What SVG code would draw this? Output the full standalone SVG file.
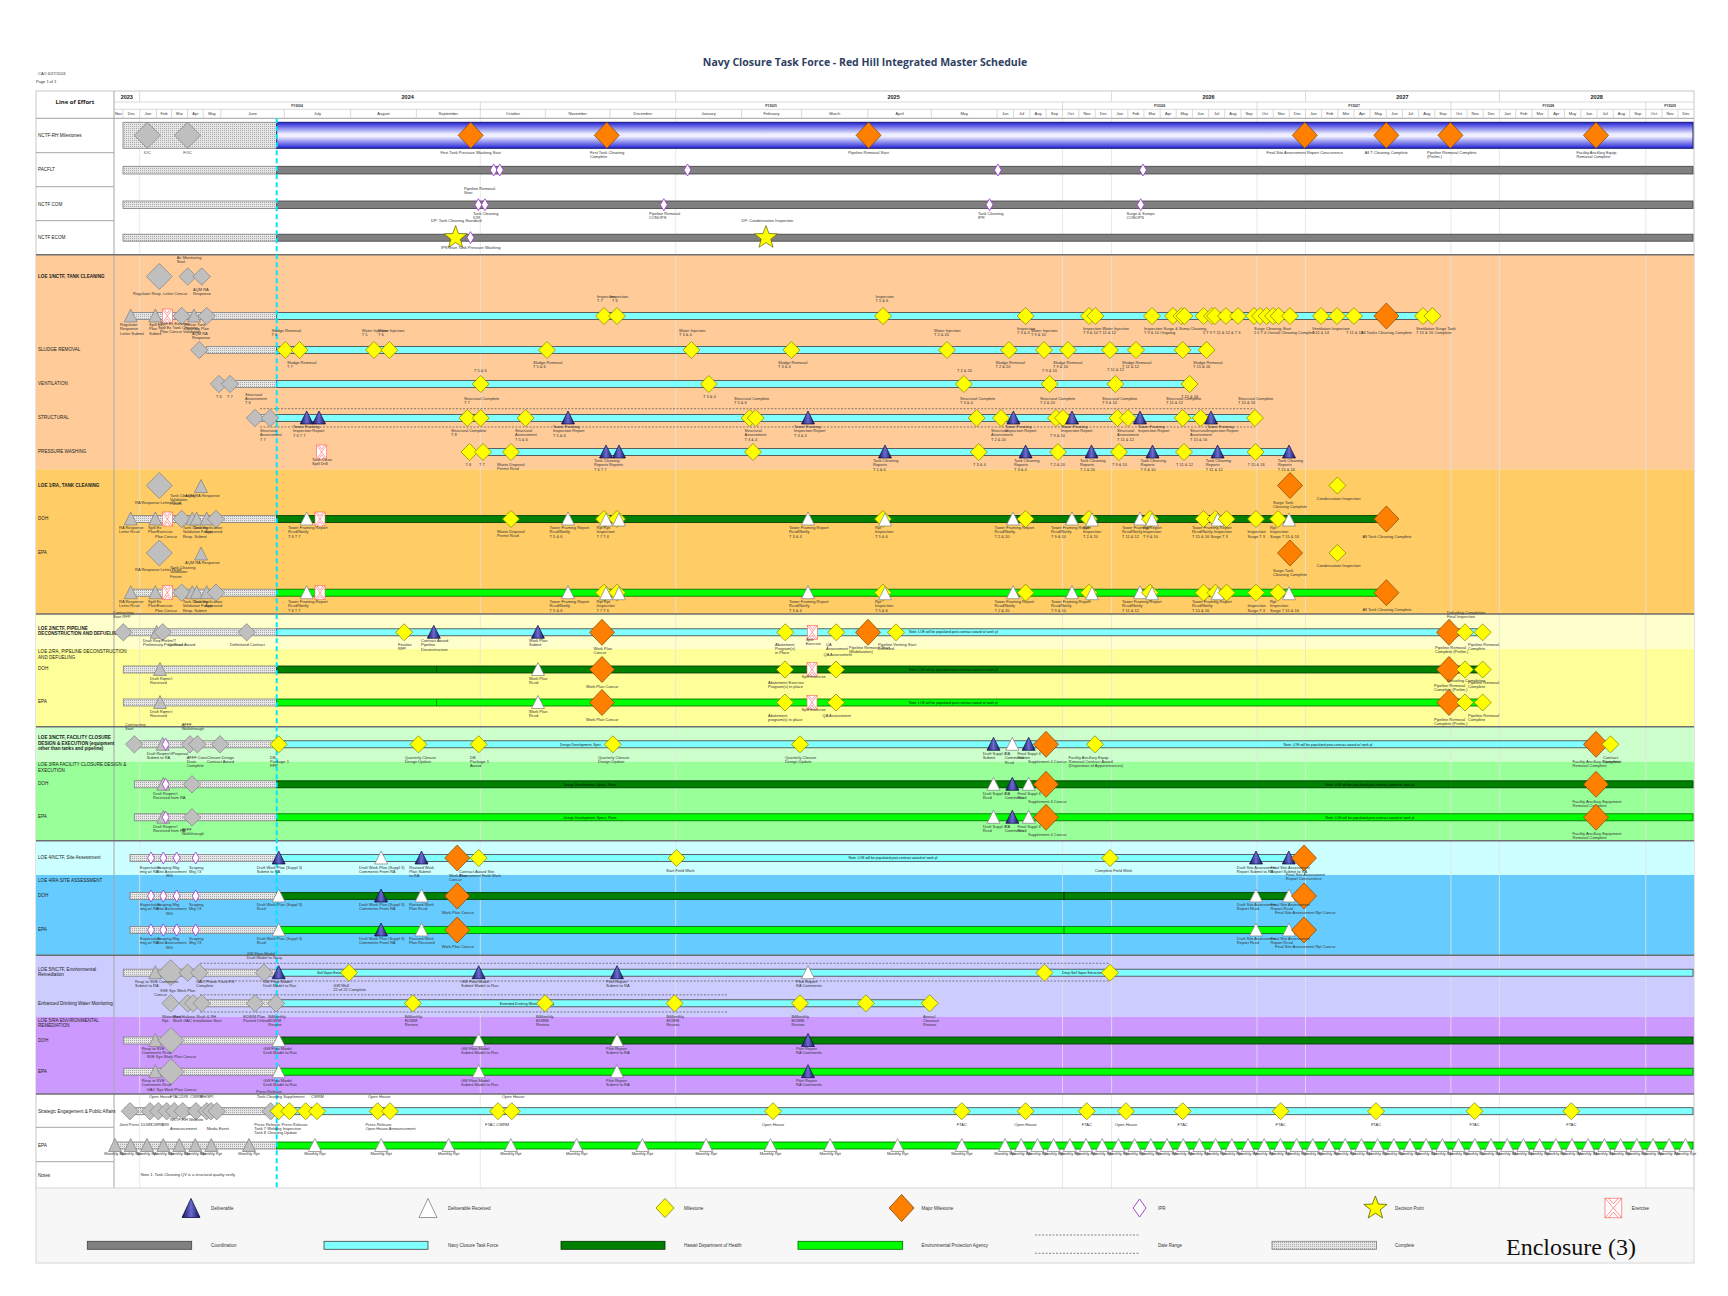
<svg xmlns="http://www.w3.org/2000/svg" width="1728" height="1296" viewBox="0 0 1728 1296">
<defs>
<style>
.t{font-family:"Liberation Sans",Arial,sans-serif;font-size:4px;fill:#333}
.c{text-anchor:middle}
.lb{font-family:"Liberation Sans",Arial,sans-serif;font-size:4.6px;fill:#222}
.b{font-weight:bold}
.n{font-family:"Liberation Sans",Arial,sans-serif;font-size:3.4px;fill:#111}
.hb{fill:url(#hatch);stroke:#7F7F7F;stroke-width:0.8}
.gb{fill:#808080;stroke:#3F3F3F;stroke-width:0.8}
.cb{fill:#80FFFF;stroke:#404040;stroke-width:0.8}
.db{fill:#008000;stroke:#003300;stroke-width:0.8}
.eb{fill:#00FF00;stroke:#006600;stroke-width:0.8}
.grid{stroke:#E2E2E2;stroke-width:0.8}
.hd{stroke:#D0D0D0;stroke-width:0.8}
.dash{stroke:#555;stroke-width:0.7;stroke-dasharray:2,1.5;fill:none}
.sec{stroke:#6E6E6E;stroke-width:1.6}
.row{stroke:#A6A6A6;stroke-width:1}
.mo{font-family:"Liberation Sans",Arial,sans-serif;font-size:4px;fill:#333;text-anchor:middle}
.yr{font-family:"Liberation Sans",Arial,sans-serif;font-size:5.5px;font-weight:bold;fill:#222;text-anchor:middle}
.fy{font-family:"Liberation Sans",Arial,sans-serif;font-size:3.3px;font-weight:bold;fill:#333;text-anchor:middle}
.lg{font-family:"Liberation Sans",Arial,sans-serif;font-size:4.5px;fill:#333}
</style>
<pattern id="hatch" width="2" height="2" patternUnits="userSpaceOnUse"><rect width="2" height="2" fill="#E6E6E6"/><rect width="1" height="1" fill="#A9A9A9"/></pattern>
<linearGradient id="blue" x1="0" y1="0" x2="0" y2="1"><stop offset="0" stop-color="#2222D8"/><stop offset="0.45" stop-color="#EEEEFF"/><stop offset="0.55" stop-color="#EEEEFF"/><stop offset="1" stop-color="#2222D8"/></linearGradient>
<linearGradient id="navy" x1="0" y1="0" x2="1" y2="0"><stop offset="0" stop-color="#14145A"/><stop offset="0.5" stop-color="#6A6AD2"/><stop offset="1" stop-color="#14145A"/></linearGradient>
<g id="ym"><polygon points="0,-8.5 8.5,0 0,8.5 -8.5,0" fill="#FFFF00" stroke="#7F7F00" stroke-width="0.7"/></g>
<g id="om"><polygon points="0,-13 12.5,0 0,13 -12.5,0" fill="#FF8000" stroke="#804000" stroke-width="0.7"/></g>
<g id="gd"><polygon points="0,-8.7 8.7,0 0,8.7 -8.7,0" fill="#BFBFBF" stroke="#7F7F7F" stroke-width="0.7"/></g>
<g id="gdl"><polygon points="0,-13 13,0 0,13 -13,0" fill="#BFBFBF" stroke="#7F7F7F" stroke-width="0.7"/></g>
<g id="dl"><polygon points="0,-7 6.5,6 -6.5,6" fill="url(#navy)" stroke="#101040" stroke-width="0.7"/></g>
<g id="dr"><polygon points="0,-7 6.5,6 -6.5,6" fill="#FFFFFF" stroke="#808080" stroke-width="0.7"/></g>
<g id="gt"><polygon points="0,-7 6.5,6 -6.5,6" fill="#BFBFBF" stroke="#7F7F7F" stroke-width="0.7"/></g>
<g id="ipr"><polygon points="0,-6 3.5,0 0,6 -3.5,0" fill="#FFFFFF" stroke="#9933CC" stroke-width="0.8"/></g>
<g id="ex"><rect x="-5" y="-7" width="10" height="14" fill="#FFFFFF" stroke="#FF6060" stroke-width="0.6"/><path d="M-5,-7 L5,7 M5,-7 L-5,7 M-3,-7 L0,-2.8 L3,-7 M-3,7 L0,2.8 L3,7" fill="none" stroke="#FF6060" stroke-width="0.6"/></g>
<g id="st"><polygon points="0,-12 2.94,-4.05 11.41,-3.71 4.76,1.55 7.05,9.71 0,5 -7.05,9.71 -4.76,1.55 -11.41,-3.71 -2.94,-4.05" fill="#FFFF00" stroke="#606000" stroke-width="0.7"/></g>
</defs>
<rect width="1728" height="1296" fill="#FFFFFF"/>
<text x="865" y="66" font-family="'Open Sans','Liberation Sans',sans-serif" font-size="10.5" font-weight="bold" fill="#2F4062" text-anchor="middle">Navy Closure Task Force - Red Hill Integrated Master Schedule</text>
<text x="38" y="75" class="t">CAO 6/27/2024</text>
<text x="36" y="83" class="t">Page 1 of 1</text>

<g id="backgrounds">
<rect x="36" y="91" width="1658" height="1098" fill="#FFFFFF" stroke="#C8C8C8" stroke-width="1"/>
<rect x="36" y="254.7" width="1658" height="214.6" fill="#FFCC99"/>
<rect x="36" y="469.3" width="1658" height="144.7" fill="#FFCC66"/>
<rect x="36" y="614" width="1658" height="35" fill="#FFFFCC"/>
<rect x="36" y="649" width="1658" height="77.7" fill="#FFFF99"/>
<rect x="36" y="726.7" width="1658" height="35" fill="#CCFFCC"/>
<rect x="36" y="761.7" width="1658" height="79" fill="#99FF99"/>
<rect x="36" y="840.7" width="1658" height="34.3" fill="#CCFFFF"/>
<rect x="36" y="875" width="1658" height="80.3" fill="#66CCFF"/>
<rect x="36" y="955.3" width="1658" height="61.4" fill="#CCCCFF"/>
<rect x="36" y="1016.7" width="1658" height="77.3" fill="#CC99FF"/>
</g>

<g id="gridlines">
<line class="grid" x1="139.7" y1="118.3" x2="139.7" y2="1189"/>
<line class="grid" x1="480.3" y1="118.3" x2="480.3" y2="1189"/>
<line class="grid" x1="675.7" y1="118.3" x2="675.7" y2="1189"/>
<line class="grid" x1="1062.5" y1="118.3" x2="1062.5" y2="1189"/>
<line class="grid" x1="1111.6" y1="118.3" x2="1111.6" y2="1189"/>
<line class="grid" x1="1257" y1="118.3" x2="1257" y2="1189"/>
<line class="grid" x1="1305.5" y1="118.3" x2="1305.5" y2="1189"/>
<line class="grid" x1="1450.9" y1="118.3" x2="1450.9" y2="1189"/>
<line class="grid" x1="1499.4" y1="118.3" x2="1499.4" y2="1189"/>
<line class="grid" x1="1645.8" y1="118.3" x2="1645.8" y2="1189"/>
</g>

<g id="header">
<line class="hd" x1="114" y1="102" x2="1694" y2="102"/>
<line class="hd" x1="114" y1="109.3" x2="1694" y2="109.3"/>
<line x1="36" y1="118.3" x2="1694" y2="118.3" stroke="#A0A0A0" stroke-width="1"/>
<text x="75" y="103.5" font-family="'Open Sans','Liberation Sans',sans-serif" font-size="6" font-weight="bold" fill="#222" text-anchor="middle">Line of Effort</text>
<line class="hd" x1="139.7" y1="91" x2="139.7" y2="102"/>
<line class="hd" x1="675.7" y1="91" x2="675.7" y2="102"/>
<line class="hd" x1="1111.6" y1="91" x2="1111.6" y2="102"/>
<line class="hd" x1="1305.5" y1="91" x2="1305.5" y2="102"/>
<line class="hd" x1="1499.4" y1="91" x2="1499.4" y2="102"/>
<text class="yr" x="126.8" y="98.5">2023</text>
<text class="yr" x="407.7" y="98.5">2024</text>
<text class="yr" x="893.6" y="98.5">2025</text>
<text class="yr" x="1208.5" y="98.5">2026</text>
<text class="yr" x="1402.4" y="98.5">2027</text>
<text class="yr" x="1596.7" y="98.5">2028</text>
<line class="hd" x1="480.3" y1="102" x2="480.3" y2="109.3"/>
<line class="hd" x1="1062.5" y1="102" x2="1062.5" y2="109.3"/>
<line class="hd" x1="1257" y1="102" x2="1257" y2="109.3"/>
<line class="hd" x1="1450.9" y1="102" x2="1450.9" y2="109.3"/>
<line class="hd" x1="1645.8" y1="102" x2="1645.8" y2="109.3"/>
<text class="fy" x="297" y="107">FY2024</text>
<text class="fy" x="771" y="107">FY2025</text>
<text class="fy" x="1159.7" y="107">FY2026</text>
<text class="fy" x="1354" y="107">FY2027</text>
<text class="fy" x="1548.4" y="107">FY2028</text>
<text class="fy" x="1670" y="107">FY2029</text>
<path class="hd" d="M123,109.3V118.3 M139.7,109.3V118.3 M156.5,109.3V118.3 M171.5,109.3V118.3 M187.5,109.3V118.3 M203.2,109.3V118.3 M220.8,109.3V118.3 M284.3,109.3V118.3 M350.6,109.3V118.3 M416.4,109.3V118.3 M480.3,109.3V118.3 M545.4,109.3V118.3 M609.9,109.3V118.3 M675.7,109.3V118.3 M741.5,109.3V118.3 M801.6,109.3V118.3 M867.8,109.3V118.3 M931.3,109.3V118.3 M997.1,109.3V118.3 M1013.5,109.3V118.3 M1029.8,109.3V118.3 M1046.2,109.3V118.3 M1062.5,109.3V118.3 M1078.9,109.3V118.3 M1095.2,109.3V118.3 M1111.6,109.3V118.3 M1127.8,109.3V118.3 M1143.9,109.3V118.3 M1160.1,109.3V118.3 M1176.2,109.3V118.3 M1192.4,109.3V118.3 M1208.6,109.3V118.3 M1224.7,109.3V118.3 M1240.9,109.3V118.3 M1257,109.3V118.3 M1273.2,109.3V118.3 M1289.3,109.3V118.3 M1305.5,109.3V118.3 M1321.7,109.3V118.3 M1337.8,109.3V118.3 M1354,109.3V118.3 M1370.1,109.3V118.3 M1386.3,109.3V118.3 M1402.5,109.3V118.3 M1418.6,109.3V118.3 M1434.8,109.3V118.3 M1450.9,109.3V118.3 M1467.1,109.3V118.3 M1483.2,109.3V118.3 M1499.4,109.3V118.3 M1515.7,109.3V118.3 M1531.9,109.3V118.3 M1548.2,109.3V118.3 M1564.5,109.3V118.3 M1580.8,109.3V118.3 M1597,109.3V118.3 M1613.3,109.3V118.3 M1629.6,109.3V118.3 M1645.8,109.3V118.3 M1662,109.3V118.3 M1678,109.3V118.3"/>
<text class="mo" x="118.5" y="115.3" font-size="3.4">Nov</text>
<text class="mo" x="131.4" y="115.3">Dec</text>
<text class="mo" x="148.1" y="115.3">Jan</text>
<text class="mo" x="164" y="115.3">Feb</text>
<text class="mo" x="179.5" y="115.3">Mar</text>
<text class="mo" x="195.4" y="115.3">Apr</text>
<text class="mo" x="212" y="115.3">May</text>
<text class="mo" x="252.6" y="115.3">June</text>
<text class="mo" x="317.5" y="115.3">July</text>
<text class="mo" x="383.5" y="115.3">August</text>
<text class="mo" x="448.4" y="115.3">September</text>
<text class="mo" x="512.9" y="115.3">October</text>
<text class="mo" x="577.7" y="115.3">November</text>
<text class="mo" x="642.8" y="115.3">December</text>
<text class="mo" x="708.6" y="115.3">January</text>
<text class="mo" x="771.6" y="115.3">February</text>
<text class="mo" x="834.7" y="115.3">March</text>
<text class="mo" x="899.6" y="115.3">April</text>
<text class="mo" x="964.2" y="115.3">May</text>
<text class="mo" x="1005.3" y="115.3">Jun</text>
<text class="mo" x="1021.7" y="115.3">Jul</text>
<text class="mo" x="1038" y="115.3">Aug</text>
<text class="mo" x="1054.4" y="115.3">Sep</text>
<text class="mo" x="1070.7" y="115.3">Oct</text>
<text class="mo" x="1087" y="115.3">Nov</text>
<text class="mo" x="1103.4" y="115.3">Dec</text>
<text class="mo" x="1119.7" y="115.3">Jan</text>
<text class="mo" x="1135.9" y="115.3">Feb</text>
<text class="mo" x="1152" y="115.3">Mar</text>
<text class="mo" x="1168.2" y="115.3">Apr</text>
<text class="mo" x="1184.3" y="115.3">May</text>
<text class="mo" x="1200.5" y="115.3">Jun</text>
<text class="mo" x="1216.6" y="115.3">Jul</text>
<text class="mo" x="1232.8" y="115.3">Aug</text>
<text class="mo" x="1249" y="115.3">Sep</text>
<text class="mo" x="1265.1" y="115.3">Oct</text>
<text class="mo" x="1281.3" y="115.3">Nov</text>
<text class="mo" x="1297.4" y="115.3">Dec</text>
<text class="mo" x="1313.6" y="115.3">Jan</text>
<text class="mo" x="1329.7" y="115.3">Feb</text>
<text class="mo" x="1345.9" y="115.3">Mar</text>
<text class="mo" x="1362" y="115.3">Apr</text>
<text class="mo" x="1378.2" y="115.3">May</text>
<text class="mo" x="1394.4" y="115.3">Jun</text>
<text class="mo" x="1410.5" y="115.3">Jul</text>
<text class="mo" x="1426.7" y="115.3">Aug</text>
<text class="mo" x="1442.8" y="115.3">Sep</text>
<text class="mo" x="1459" y="115.3">Oct</text>
<text class="mo" x="1475.1" y="115.3">Nov</text>
<text class="mo" x="1491.3" y="115.3">Dec</text>
<text class="mo" x="1507.5" y="115.3">Jan</text>
<text class="mo" x="1523.8" y="115.3">Feb</text>
<text class="mo" x="1540" y="115.3">Mar</text>
<text class="mo" x="1556.3" y="115.3">Apr</text>
<text class="mo" x="1572.6" y="115.3">May</text>
<text class="mo" x="1588.9" y="115.3">Jun</text>
<text class="mo" x="1605.1" y="115.3">Jul</text>
<text class="mo" x="1621.4" y="115.3">Aug</text>
<text class="mo" x="1637.7" y="115.3">Sep</text>
<text class="mo" x="1653.9" y="115.3">Oct</text>
<text class="mo" x="1670" y="115.3">Nov</text>
<text class="mo" x="1686" y="115.3">Dec</text>
</g>

<g id="row-lines">
<line x1="114" y1="91" x2="114" y2="1189" stroke="#A6A6A6" stroke-width="1"/>
<line class="row" x1="36" y1="152.7" x2="114" y2="152.7"/>
<line class="row" x1="36" y1="186.7" x2="114" y2="186.7"/>
<line class="row" x1="36" y1="220.7" x2="114" y2="220.7"/>
<line class="row" x1="36" y1="1127.3" x2="114" y2="1127.3"/>
<line class="row" x1="36" y1="1161.7" x2="114" y2="1161.7"/>
<line class="sec" x1="36" y1="254.7" x2="1694" y2="254.7"/>
<line class="sec" x1="36" y1="614" x2="1694" y2="614"/>
<line class="sec" x1="36" y1="726.7" x2="1694" y2="726.7"/>
<line class="sec" x1="36" y1="840.7" x2="1694" y2="840.7"/>
<line class="sec" x1="36" y1="955.3" x2="1694" y2="955.3"/>
<line class="sec" x1="36" y1="1094" x2="1694" y2="1094"/>
</g>

<g id="row-labels">
<text class="lb" x="38" y="137">NCTF-RH Milestones</text>
<text class="lb" x="38" y="171">PACFLT</text>
<text class="lb" x="38" y="205.5">NCTF COM</text>
<text class="lb" x="38" y="238.5">NCTF ECOM</text>
<text class="lb b" x="38" y="278">LOE 1/NCTF, TANK CLEANING</text>
<text class="lb" x="38" y="351">SLUDGE REMOVAL</text>
<text class="lb" x="38" y="385">VENTILATION</text>
<text class="lb" x="38" y="419">STRUCTURAL</text>
<text class="lb" x="38" y="453">PRESSURE WASHING</text>
<text class="lb b" x="38" y="486.5">LOE 1/RA, TANK CLEANING</text>
<text class="lb" x="38" y="520">DOH</text>
<text class="lb" x="38" y="554">EPA</text>
<text class="lb b" x="38" y="629.5">LOE 2/NCTF, PIPELINE</text>
<text class="lb b" x="38" y="635">DECONSTRUCTION AND DEFUELING</text>
<text class="lb" x="38" y="653">LOE 2/RA, PIPELINE DECONSTRUCTION</text>
<text class="lb" x="38" y="658.5">AND DEFUELING</text>
<text class="lb" x="38" y="670">DOH</text>
<text class="lb" x="38" y="703">EPA</text>
<text class="lb b" x="38" y="739">LOE 3/NCTF, FACILITY CLOSURE</text>
<text class="lb b" x="38" y="744.5">DESIGN &amp; EXECUTION (equipment</text>
<text class="lb b" x="38" y="750">other than tanks and pipeline)</text>
<text class="lb" x="38" y="766">LOE 3/RA FACILITY CLOSURE DESIGN &amp;</text>
<text class="lb" x="38" y="771.5">EXECUTION</text>
<text class="lb" x="38" y="785">DOH</text>
<text class="lb" x="38" y="818">EPA</text>
<text class="lb" x="38" y="859">LOE 4/NCTF, Site Assessment</text>
<text class="lb" x="38" y="882">LOE 4/RA SITE ASSESSMENT</text>
<text class="lb" x="38" y="896.5">DOH</text>
<text class="lb" x="38" y="930.5">EPA</text>
<text class="lb" x="38" y="970.5">LOE 5/NCTF, Environmental</text>
<text class="lb" x="38" y="976">Remediation</text>
<text class="lb" x="38" y="1004.5">Enhanced Drinking Water Monitoring</text>
<text class="lb" x="38" y="1021.5">LOE 5/RA ENVIRONMENTAL</text>
<text class="lb" x="38" y="1027">REMEDIATION</text>
<text class="lb" x="38" y="1041.5">DOH</text>
<text class="lb" x="38" y="1072.5">EPA</text>
<text class="lb" x="38" y="1112.5">Strategic Engagement &amp; Public Affairs</text>
<text class="lb" x="38" y="1146.5">EPA</text>
<text class="lb" x="38" y="1176.5">Notes</text>
</g>

<g id="bars">
<rect class="hb" x="123" y="122.3" width="153.7" height="26"/>
<rect x="276.7" y="122.3" width="1416.3" height="26" fill="url(#blue)" stroke="#1A1A70" stroke-width="1"/>
<rect class="hb" x="123" y="166.3" width="153.7" height="7.7"/>
<rect class="gb" x="276.7" y="166.3" width="1416.3" height="7.7"/>
<rect class="hb" x="123" y="201" width="153.7" height="7.5"/>
<rect class="gb" x="276.7" y="201" width="1416.3" height="7.5"/>
<rect class="hb" x="123" y="234.2" width="153.7" height="7"/>
<rect class="gb" x="276.7" y="234.2" width="1416.3" height="7"/>
<rect class="hb" x="132.7" y="312.5" width="144" height="7"/>
<rect class="cb" x="276.7" y="312.5" width="1155.7" height="7"/>
<rect class="hb" x="206.7" y="346.5" width="70" height="7"/>
<rect class="cb" x="276.7" y="346.5" width="929.9" height="7"/>
<rect class="hb" x="230" y="380.5" width="46.7" height="7"/>
<rect class="cb" x="276.7" y="380.5" width="912.8" height="7"/>
<rect class="hb" x="255" y="414.5" width="21.7" height="7"/>
<rect class="cb" x="276.7" y="414.5" width="978.3" height="7"/>
<rect class="cb" x="479" y="448.5" width="810" height="7"/>
<rect class="hb" x="132.7" y="515.5" width="144" height="7"/>
<rect class="db" x="276.7" y="515.5" width="1109.7" height="7"/>
<rect class="hb" x="132.7" y="589.2" width="144" height="7"/>
<rect class="eb" x="276.7" y="589.2" width="1109.7" height="7"/>
<rect class="hb" x="126.7" y="628.8" width="150" height="7"/>
<rect class="cb" x="276.7" y="628.8" width="1204.3" height="7"/>
<rect class="hb" x="123.3" y="666" width="153.4" height="7"/>
<rect class="db" x="276.7" y="666" width="1205.3" height="7"/>
<line x1="436.5" y1="666" x2="436.5" y2="673" stroke="#003300" stroke-width="0.7"/>
<rect class="hb" x="123.3" y="699" width="153.4" height="7"/>
<rect class="eb" x="276.7" y="699" width="1205.3" height="7"/>
<line x1="436.5" y1="699" x2="436.5" y2="706" stroke="#006600" stroke-width="0.7"/>
<rect class="hb" x="134.3" y="740.8" width="142.4" height="7"/>
<rect class="cb" x="276.7" y="740.8" width="1333.3" height="7"/>
<rect class="hb" x="134.3" y="780.8" width="142.4" height="7"/>
<rect class="db" x="276.7" y="780.8" width="1416.3" height="7"/>
<rect class="hb" x="134.3" y="813.8" width="142.4" height="7"/>
<rect class="eb" x="276.7" y="813.8" width="1416.3" height="7"/>
<rect class="hb" x="130" y="854.5" width="146.7" height="7"/>
<rect class="cb" x="276.7" y="854.5" width="1027.3" height="7"/>
<rect class="hb" x="130" y="892.5" width="146.7" height="7"/>
<rect class="db" x="276.7" y="892.5" width="1013.3" height="7"/>
<line x1="1064" y1="892.5" x2="1064" y2="899.5" stroke="#001a00" stroke-width="0.8"/>
<rect class="hb" x="130" y="926.5" width="146.7" height="7"/>
<rect class="eb" x="276.7" y="926.5" width="1013.3" height="7"/>
<line x1="1064" y1="926.5" x2="1064" y2="933.5" stroke="#004400" stroke-width="0.8"/>
<rect class="hb" x="123.3" y="969.2" width="153.4" height="7"/>
<rect class="cb" x="276.7" y="969.2" width="1416.3" height="7"/>
<rect class="hb" x="206.7" y="999.8" width="70" height="7"/>
<rect class="cb" x="276.7" y="999.8" width="653.3" height="7"/>
<rect class="hb" x="123.3" y="1037" width="153.4" height="7"/>
<rect class="db" x="276.7" y="1037" width="1416.3" height="7"/>
<rect class="hb" x="123.3" y="1068.2" width="153.4" height="7"/>
<rect class="eb" x="276.7" y="1068.2" width="1416.3" height="7"/>
<rect class="hb" x="125" y="1107.7" width="151.7" height="7"/>
<rect class="cb" x="276.7" y="1107.7" width="1416.3" height="7"/>
<rect class="hb" x="116.7" y="1142" width="160" height="7"/>
<rect class="eb" x="276.7" y="1142" width="1416.3" height="7"/>
<path class="dash" d="M260,408.7H1255 M260,427H1255"/>
<path class="dash" d="M200,963.3H1110 M200,981H1110"/>
<path class="dash" d="M200,994.8H727 M200,1012H727"/>
</g>

<g id="bar-texts">
<text class="n" x="909" y="633.3">Note: LOE will be populated post-contract award w/ work pl</text>
<text class="n" x="909" y="670.5">Note: LOE will be populated post-contract award w/ work pl</text>
<text class="n" x="909" y="703.5">Note: LOE will be populated post-contract award w/ work pl</text>
<text class="n" x="560" y="745.5">Design Development, Spec</text>
<text class="n c" x="1328" y="745.5">Note: LOE will be populated post-contract award w/ work pl</text>
<text class="n c" x="590" y="785.5">Design Development, Specs, Plans</text>
<text class="n c" x="1370" y="785.5">Note: LOE will be populated post-contract award w/ work pl</text>
<text class="n c" x="590" y="818.5">Design Development, Specs, Plans</text>
<text class="n c" x="1370" y="818.5">Note: LOE will be populated post-contract award w/ work pl</text>
<text class="n c" x="893" y="859.2">Note: LOE will be populated post-contract award w/ work pl</text>
<text class="n" x="317" y="973.9">Soil Vapor Extraction Pilot</text>
<text class="n" x="1062" y="973.9">Deep Soil Vapor Extraction</text>
<text class="n c" x="527" y="1004.5">Extended Drinking Water Monitoring</text>
</g>

<g id="today-line"><line x1="276.7" y1="118.3" x2="276.7" y2="1189" stroke="#00E5FF" stroke-width="2" stroke-dasharray="5,3"/></g>

<g id="top-markers">
<use href="#gdl" x="147.3" y="135.3"/><use href="#gdl" x="187.5" y="135.3"/>
<use href="#om" x="470.7" y="135.3"/><use href="#om" x="606.8" y="135.3"/><use href="#om" x="868.6" y="135.3"/><use href="#om" x="1304.8" y="135.3"/><use href="#om" x="1386.3" y="135.3"/><use href="#om" x="1450.4" y="135.3"/><use href="#om" x="1596" y="135.3"/>
<text class="t c" x="147.3" y="154">IOC</text><text class="t c" x="187.5" y="154">FOC</text>
<text class="t c" x="470.7" y="154">First Tank Pressure Washing Start</text>
<text class="t" x="590" y="154">First Tank Cleaning</text><text class="t" x="590" y="158.4">Complete</text>
<text class="t c" x="868.6" y="154">Pipeline Removal Start</text>
<text class="t c" x="1304.8" y="154">Final Site Assessment Report Concurrence</text>
<text class="t c" x="1386.3" y="154">All T Cleaning Complete</text>
<text class="t" x="1427" y="154">Pipeline Removal Complete</text><text class="t" x="1427" y="158.4">(Prelim.)</text>
<text class="t" x="1576.5" y="154">Facility Ancillary Equip.</text><text class="t" x="1576.5" y="158.4">Removal Complete</text>
<use href="#ipr" x="493.7" y="170"/><use href="#ipr" x="499.8" y="170"/><use href="#ipr" x="687.5" y="170"/><use href="#ipr" x="997.9" y="170"/><use href="#ipr" x="1143" y="170"/>
<use href="#ipr" x="478.4" y="204.7"/><use href="#ipr" x="484.9" y="204.7"/><use href="#ipr" x="663.8" y="204.7"/><use href="#ipr" x="989.5" y="204.7"/><use href="#ipr" x="1140.7" y="204.7"/>
<text class="t" x="464" y="190">Pipeline Removal</text><text class="t" x="464" y="194.4">Start</text>
<text class="t" x="473" y="214.5">Tank Cleaning</text><text class="t" x="473" y="218.9">IOR</text>
<text class="t" x="649" y="214.5">Pipeline Removal</text><text class="t" x="649" y="218.9">CONOPS</text>
<text class="t" x="978" y="214.5">Tank Cleaning</text><text class="t" x="978" y="218.9">IPR</text>
<text class="t" x="1126.5" y="214.5">Surge &amp; Sumps</text><text class="t" x="1126.5" y="218.9">CONOPS</text>
<use href="#st" x="455.6" y="237.6"/><use href="#ipr" x="470.5" y="237.6"/><use href="#st" x="766" y="237.6"/>
<text class="t" x="431" y="222">DP: Tank Cleaning Standard</text>
<text class="t" x="741.5" y="222">DP: Condensation Inspection</text>
<text class="t" x="441" y="249">IPR/Start Tank Pressure Washing</text>
</g>

<g id="loe1-nctf">
<use href="#gdl" x="159.3" y="276.5"/><use href="#gd" x="187.7" y="276.5"/><use href="#gd" x="201.7" y="276.5"/>
<text class="t" x="176.7" y="259">Air Monitoring</text><text class="t" x="176.7" y="263.4">Start</text>
<text class="t" x="133" y="295">Regulator Resp. Letter Concur</text>
<text class="t" x="193" y="290.5">AQM RA</text><text class="t" x="193" y="294.9">Response</text>
<use href="#gt" x="130.7" y="316"/><use href="#gt" x="155.3" y="316"/><use href="#ex" x="167.3" y="316"/><use href="#gd" x="181.7" y="316"/><use href="#gt" x="194" y="316"/><use href="#gd" x="206.7" y="316"/>
<text class="t" x="120" y="326">Regulator</text><text class="t" x="120" y="330.4">Response</text><text class="t" x="120" y="334.8">Letter Submit</text>
<text class="t" x="149" y="326">Spill Ex</text><text class="t" x="149" y="330.4">Plan</text><text class="t" x="149" y="334.8">Submit</text>
<text class="t" x="160" y="324.5">Spill Ex Exercise</text><text class="t" x="158" y="329">Spill Ex Tank Cleaning</text><text class="t" x="160" y="333.4">Plan Concur Validation</text>
<text class="t" x="184" y="326">Revise Tank</text><text class="t" x="184" y="330.4">Cleaning Plan</text><text class="t" x="192" y="334.8">AQM RA</text><text class="t" x="192" y="339.2">Response</text>
<use href="#ym" x="604" y="316"/><use href="#ym" x="617" y="316"/><use href="#ym" x="883" y="316"/><use href="#ym" x="1025.6" y="316"/><use href="#ym" x="1089" y="316"/><use href="#ym" x="1095.4" y="316"/><use href="#ym" x="1152" y="316"/><use href="#ym" x="1173" y="316"/><use href="#ym" x="1181.4" y="316"/><use href="#ym" x="1184.4" y="316"/><use href="#ym" x="1203.6" y="316"/><use href="#ym" x="1212" y="316"/><use href="#ym" x="1215" y="316"/><use href="#ym" x="1226" y="316"/><use href="#ym" x="1238" y="316"/><use href="#ym" x="1254" y="316"/><use href="#ym" x="1260" y="316"/><use href="#ym" x="1266.6" y="316"/><use href="#ym" x="1273" y="316"/><use href="#ym" x="1278.6" y="316"/><use href="#ym" x="1290" y="316"/><use href="#ym" x="1321" y="316"/><use href="#ym" x="1337" y="316"/><use href="#ym" x="1354" y="316"/><use href="#om" x="1386.4" y="316"/><use href="#ym" x="1423" y="316"/><use href="#ym" x="1432.4" y="316"/>
<text class="t" x="597" y="298">Inspection</text><text class="t" x="597" y="302.4">T 7</text>
<text class="t" x="610" y="298">Inspection</text><text class="t" x="612" y="302.4">T 6</text>
<text class="t" x="875.5" y="298">Inspection</text><text class="t" x="875.5" y="302.4">T 5 &amp; 6</text>
<text class="t" x="1083" y="329.5">Inspection Water Injection</text><text class="t" x="1083" y="333.9">T 9 &amp; 10  T 11 &amp; 12</text>
<text class="t" x="1144" y="329.5">Inspection Surge &amp; Sump Cleaning</text><text class="t" x="1144" y="333.9">T 9 &amp; 10  Ongoing</text>
<text class="t" x="1203" y="333.9">5 T 9 T 11 &amp; 12 &amp; T 3</text>
<text class="t" x="1254" y="329.5">Surge Cleaning Start</text><text class="t" x="1254" y="333.9">5 5 T 4 Overall Cleaning Complete</text>
<text class="t" x="1312" y="329.5">Ventilation Inspection</text><text class="t" x="1312" y="333.9">T 11 &amp; 14</text>
<text class="t" x="1346" y="333.9">T 11 &amp; 15</text>
<text class="t" x="1361" y="333.9">All Tanks Cleaning Complete</text>
<text class="t" x="1416" y="329.5">Ventilation Surge Tank</text><text class="t" x="1416" y="333.9">T 15 &amp; 16 Complete</text>
</g>

<g id="loe1-sludge">
<use href="#gd" x="199.3" y="350"/>
<use href="#ym" x="285.3" y="350"/><use href="#ym" x="299.6" y="350"/><use href="#ym" x="374" y="350"/><use href="#ym" x="389.4" y="350"/><use href="#ym" x="547" y="350"/><use href="#ym" x="691.4" y="350"/><use href="#ym" x="791.4" y="350"/><use href="#ym" x="947" y="350"/><use href="#ym" x="1009" y="350"/><use href="#ym" x="1044" y="350"/><use href="#ym" x="1068" y="350"/><use href="#ym" x="1110" y="350"/><use href="#ym" x="1136" y="350"/><use href="#ym" x="1182.7" y="350"/><use href="#ym" x="1206.6" y="350"/>
<text class="t" x="271.5" y="332">Sludge Removal</text><text class="t" x="271.5" y="336.4">T 6</text>
<text class="t" x="361.8" y="332">Water Injection</text><text class="t" x="361.8" y="336.4">T 5</text>
<text class="t" x="378" y="332">Water Injection</text><text class="t" x="378" y="336.4">T 6</text>
<text class="t" x="679" y="332">Water Injection</text><text class="t" x="679" y="336.4">T 3 &amp; 4</text>
<text class="t" x="934" y="332">Water Injection</text><text class="t" x="934" y="336.4">T 2 &amp; 20</text>
<text class="t" x="1017" y="330">Inspection</text><text class="t" x="1017" y="334.4">T 3 &amp; 4</text>
<text class="t" x="1031" y="332">Water Injection</text><text class="t" x="1031" y="336.4">T 9 &amp; 10</text>
<text class="t" x="287" y="364">Sludge Removal</text><text class="t" x="287" y="368.4">T 7</text>
<text class="t" x="533" y="364">Sludge Removal</text><text class="t" x="533" y="368.4">T 5 &amp; 6</text>
<text class="t" x="778" y="364">Sludge Removal</text><text class="t" x="778" y="368.4">T 3 &amp; 4</text>
<text class="t" x="995.5" y="364">Sludge Removal</text><text class="t" x="995.5" y="368.4">T 2 &amp; 20</text>
<text class="t" x="1053" y="364">Sludge Removal</text><text class="t" x="1053" y="368.4">T 9 &amp; 10</text>
<text class="t" x="1107" y="370.5">T 11 &amp; 12</text>
<text class="t" x="1122" y="364">Sludge Removal</text><text class="t" x="1122" y="368.4">T 11 &amp; 12</text>
<text class="t" x="1193" y="364">Sludge Removal</text><text class="t" x="1193" y="368.4">T 15 &amp; 16</text>
</g>

<g id="loe1-ventilation">
<use href="#gd" x="219" y="384"/><use href="#gd" x="230" y="384"/>
<use href="#ym" x="480.7" y="384"/><use href="#ym" x="708.8" y="384"/><use href="#ym" x="963.9" y="384"/><use href="#ym" x="1049.6" y="384"/><use href="#ym" x="1115.4" y="384"/><use href="#ym" x="1189.5" y="384"/>
<text class="t" x="216" y="398">T 6</text><text class="t" x="227" y="398">T 7</text>
<text class="t" x="245" y="395.5">Structural</text><text class="t" x="245" y="399.9">Assessment</text><text class="t" x="245" y="404.3">T 6</text>
<text class="t" x="474" y="371.5">T 5 &amp; 6</text>
<text class="t" x="703" y="398">T 3 &amp; 4</text>
<text class="t" x="957" y="371.5">T 2 &amp; 20</text>
<text class="t" x="1042" y="371.5">T 9 &amp; 10</text>
<text class="t" x="1181" y="397.5">T 15 &amp; 16</text>
</g>

<g id="loe1-structural">
<use href="#gd" x="255" y="418"/><use href="#gd" x="270" y="418"/>
<use href="#ym" x="467.4" y="418"/><use href="#ym" x="480.7" y="418"/><use href="#ym" x="525.6" y="418"/><use href="#ym" x="749.6" y="418"/><use href="#ym" x="755.7" y="418"/><use href="#ym" x="976.6" y="418"/><use href="#ym" x="1001" y="418"/><use href="#ym" x="1056" y="418"/><use href="#ym" x="1063" y="418"/><use href="#ym" x="1117.5" y="418"/><use href="#ym" x="1128" y="418"/><use href="#ym" x="1182.7" y="418"/><use href="#ym" x="1200.6" y="418"/><use href="#ym" x="1255" y="418"/>
<use href="#dl" x="306.7" y="418"/><use href="#dl" x="319" y="418"/><use href="#dl" x="568" y="418"/><use href="#dl" x="808" y="418"/><use href="#dl" x="1013.4" y="418"/><use href="#dl" x="1072" y="418"/><use href="#dl" x="1140" y="418"/><use href="#dl" x="1211" y="418"/>
<text class="t" x="464" y="400">Structural Complete</text><text class="t" x="464" y="404.4">T 7</text>
<text class="t" x="734" y="400">Structural Complete</text><text class="t" x="734" y="404.4">T 5 &amp; 6</text>
<text class="t" x="960" y="400">Structural Complete</text><text class="t" x="960" y="404.4">T 3 &amp; 4</text>
<text class="t" x="1040" y="400">Structural Complete</text><text class="t" x="1040" y="404.4">T 2 &amp; 20</text>
<text class="t" x="1102" y="400">Structural Complete</text><text class="t" x="1102" y="404.4">T 9 &amp; 10</text>
<text class="t" x="1166" y="400">Structural Complete</text><text class="t" x="1166" y="404.4">T 11 &amp; 12</text>
<text class="t" x="1238" y="400">Structural Complete</text><text class="t" x="1238" y="404.4">T 15 &amp; 16</text>
<text class="t" x="260" y="432">Structural</text><text class="t" x="260" y="436.4">Assessment</text><text class="t" x="260" y="440.8">T 7</text>
<text class="t" x="293" y="428">Tower Framing</text><text class="t" x="293" y="432.4">Inspection Report</text><text class="t" x="293" y="436.8">T 6     T 7</text>
<text class="t" x="451" y="432">Structural Complete</text><text class="t" x="451" y="436.4">T 8</text>
<text class="t" x="515" y="432">Structural</text><text class="t" x="515" y="436.4">Assessment</text><text class="t" x="515" y="440.8">T 5 &amp; 6</text>
<text class="t" x="553" y="428">Tower Framing</text><text class="t" x="553" y="432.4">Inspection Report</text><text class="t" x="553" y="436.8">T 5 &amp; 6</text>
<text class="t" x="744.5" y="432">Structural</text><text class="t" x="744.5" y="436.4">Assessment</text><text class="t" x="744.5" y="440.8">T 3 &amp; 4</text>
<text class="t" x="794" y="428">Tower Framing</text><text class="t" x="794" y="432.4">Inspection Report</text><text class="t" x="794" y="436.8">T 3 &amp; 4</text>
<text class="t" x="991" y="432">Structural</text><text class="t" x="991" y="436.4">Assessment</text><text class="t" x="991" y="440.8">T 2 &amp; 20</text>
<text class="t" x="1005" y="428">Tower Framing</text><text class="t" x="1005" y="432.4">Inspection Report</text>
<text class="t" x="1061" y="428">Tower Framing</text><text class="t" x="1061" y="432.4">Inspection Report</text><text class="t" x="1050" y="436.8">T 9 &amp; 10</text>
<text class="t" x="1117" y="432">Structural</text><text class="t" x="1117" y="436.4">Assessment</text><text class="t" x="1117" y="440.8">T 11 &amp; 12</text>
<text class="t" x="1138" y="428">Tower Framing</text><text class="t" x="1138" y="432.4">Inspection Report</text>
<text class="t" x="1190" y="432">Structural</text><text class="t" x="1190" y="436.4">Assessment</text><text class="t" x="1190" y="440.8">T 15 &amp; 16</text>
<text class="t" x="1207" y="428">Tower Framing</text><text class="t" x="1207" y="432.4">Inspection Report</text>
</g>

<g id="loe1-pressure">
<use href="#ex" x="321.7" y="452"/>
<use href="#ym" x="469.5" y="452"/><use href="#ym" x="483" y="452"/><use href="#ym" x="511" y="452"/><use href="#ym" x="753" y="452"/><use href="#ym" x="978.7" y="452"/><use href="#ym" x="1058" y="452"/><use href="#ym" x="1119" y="452"/><use href="#ym" x="1184" y="452"/><use href="#ym" x="1255.6" y="452"/>
<use href="#dl" x="606" y="452"/><use href="#dl" x="619" y="452"/><use href="#dl" x="885" y="452"/><use href="#dl" x="1025.6" y="452"/><use href="#dl" x="1091.5" y="452"/><use href="#dl" x="1152.5" y="452"/><use href="#dl" x="1217.6" y="452"/><use href="#dl" x="1289" y="452"/>
<text class="t" x="312" y="461">Tank Clean</text><text class="t" x="312" y="465.4">Spill Drill</text>
<text class="t" x="465.5" y="466">T 6</text><text class="t" x="479" y="466">T 7</text>
<text class="t" x="497" y="466">Waste Disposal</text><text class="t" x="497" y="470.4">Permit Rcvd</text>
<text class="t" x="594" y="462">Tank Cleaning</text><text class="t" x="594" y="466.4">Reports Reports</text><text class="t" x="594" y="470.8">T 6     T 7</text>
<text class="t" x="873" y="462">Tank Cleaning</text><text class="t" x="873" y="466.4">Reports</text><text class="t" x="873" y="470.8">T 5 &amp; 6</text>
<text class="t" x="973" y="466">T 3 &amp; 4</text>
<text class="t" x="1014" y="462">Tank Cleaning</text><text class="t" x="1014" y="466.4">Reports</text><text class="t" x="1014" y="470.8">T 3 &amp; 4</text>
<text class="t" x="1050" y="466">T 2 &amp; 20</text>
<text class="t" x="1080" y="462">Tank Cleaning</text><text class="t" x="1080" y="466.4">Reports</text><text class="t" x="1080" y="470.8">T 2 &amp; 20</text>
<text class="t" x="1112" y="466">T 9 &amp; 10</text>
<text class="t" x="1140.5" y="462">Tank Cleaning</text><text class="t" x="1140.5" y="466.4">Reports</text><text class="t" x="1140.5" y="470.8">T 9 &amp; 10</text>
<text class="t" x="1176" y="466">T 11 &amp; 12</text>
<text class="t" x="1205.7" y="462">Tank Cleaning</text><text class="t" x="1205.7" y="466.4">Reports</text><text class="t" x="1205.7" y="470.8">T 11 &amp; 12</text>
<text class="t" x="1247.5" y="466">T 15 &amp; 16</text>
<text class="t" x="1277.7" y="462">Tank Cleaning</text><text class="t" x="1277.7" y="466.4">Reports</text><text class="t" x="1277.7" y="470.8">T 15 &amp; 16</text>
</g>

<g id="loe1-ra-top">
<use href="#gdl" x="159.3" y="485.5"/><use href="#gt" x="201" y="486.5"/>
<use href="#om" x="1290" y="485.5"/><use href="#ym" x="1337.4" y="485.5"/>
<text class="t" x="135" y="503.5">RA Response Letter Rcvd</text>
<text class="t" x="170" y="496.5">Tank Cleaning</text><text class="t" x="170" y="500.9">Validation</text><text class="t" x="170" y="505.3">Forum</text>
<text class="t" x="185" y="496.5">AQM RA Response</text>
<text class="t" x="1273" y="504">Surge Tank</text><text class="t" x="1273" y="508.4">Cleaning Complete</text>
<text class="t" x="1316.5" y="499.5">Condensation Inspection</text>
<use href="#gdl" x="159.3" y="553"/><use href="#gt" x="201" y="554"/>
<use href="#om" x="1290" y="553"/><use href="#ym" x="1337.4" y="553"/>
<text class="t" x="135" y="571">RA Response Letter Rcvd</text>
<text class="t" x="170" y="569">Tank Cleaning</text><text class="t" x="170" y="573.4">Validation</text><text class="t" x="170" y="577.8">Forum</text>
<text class="t" x="185" y="564">AQM RA Response</text>
<text class="t" x="1273" y="572">Surge Tank</text><text class="t" x="1273" y="576.4">Cleaning Complete</text>
<text class="t" x="1316.5" y="567">Condensation Inspection</text>
</g>

<g id="loe1-ra-doh">
<use href="#gt" x="130.7" y="519"/><use href="#gt" x="155.3" y="519"/><use href="#ex" x="167.3" y="519"/><use href="#gd" x="181.7" y="519"/><use href="#gt" x="192.3" y="519"/><use href="#gt" x="196.7" y="519"/><use href="#gt" x="206.7" y="519"/><use href="#gd" x="216" y="519"/>
<use href="#dr" x="306.7" y="519"/><use href="#ex" x="320" y="519"/><use href="#ym" x="511" y="519"/><use href="#dr" x="568" y="519"/><use href="#ym" x="604" y="519"/><use href="#ym" x="617" y="519"/><use href="#dr" x="606" y="520"/><use href="#dr" x="619" y="520"/><use href="#dr" x="808" y="519"/><use href="#ym" x="883" y="519"/><use href="#dr" x="885" y="520"/><use href="#dr" x="1013" y="519"/><use href="#ym" x="1025.6" y="519"/><use href="#dr" x="1072" y="519"/><use href="#ym" x="1089" y="519"/><use href="#dr" x="1092" y="520"/><use href="#dr" x="1140" y="519"/><use href="#ym" x="1150" y="519"/><use href="#dr" x="1152" y="520"/><use href="#ym" x="1203.6" y="519"/><use href="#ym" x="1215.5" y="519"/><use href="#dr" x="1217.6" y="520"/><use href="#ym" x="1226.6" y="519"/><use href="#ym" x="1256" y="519"/><use href="#ym" x="1278" y="519"/><use href="#dr" x="1289" y="520"/><use href="#om" x="1386.4" y="519"/>
<text class="t" x="119" y="529">RA Response</text><text class="t" x="119" y="533.4">Letter Rcvd</text>
<text class="t" x="148" y="529">Spill Ex</text><text class="t" x="148" y="533.4">Plan/Exercise</text><text class="t" x="155" y="537.8">Plan Concur</text>
<text class="t" x="182.7" y="529">Tank Cleaning</text><text class="t" x="182.7" y="533.4">Validation Forum</text><text class="t" x="182.7" y="537.8">Resp. Submit</text>
<text class="t" x="193" y="529">Tank Verification</text><text class="t" x="205" y="533.4">Approved</text>
<text class="t" x="288" y="529">Tower Framing Report</text><text class="t" x="288" y="533.4">Rcvd/Notify</text><text class="t" x="288" y="537.8">T 6     T 7</text>
<text class="t" x="497" y="533">Waste Disposal</text><text class="t" x="497" y="537.4">Permit Rcvd</text>
<text class="t" x="549.6" y="529">Tower Framing Report</text><text class="t" x="549.6" y="533.4">Rcvd/Notify</text><text class="t" x="549.6" y="537.8">T 5 &amp; 6</text>
<text class="t" x="596.5" y="529">Rpt    Rpt</text><text class="t" x="596.5" y="533.4">Inspection</text><text class="t" x="596.5" y="537.8">T 7    T 6</text>
<text class="t" x="789" y="529">Tower Framing Report</text><text class="t" x="789" y="533.4">Rcvd/Notify</text><text class="t" x="789" y="537.8">T 3 &amp; 4</text>
<text class="t" x="875" y="529">Rpt</text><text class="t" x="875" y="533.4">Inspection</text><text class="t" x="875" y="537.8">T 5 &amp; 6</text>
<text class="t" x="994.5" y="529">Tower Framing Report</text><text class="t" x="994.5" y="533.4">Rcvd/Notify</text><text class="t" x="994.5" y="537.8">T 2 &amp; 20</text>
<text class="t" x="1051" y="529">Tower Framing Report</text><text class="t" x="1051" y="533.4">Rcvd/Notify</text><text class="t" x="1051" y="537.8">T 9 &amp; 10</text>
<text class="t" x="1083" y="529">Rpt</text><text class="t" x="1083" y="533.4">Inspection</text><text class="t" x="1083" y="537.8">T 2 &amp; 20</text>
<text class="t" x="1122" y="529">Tower Framing Report</text><text class="t" x="1122" y="533.4">Rcvd/Notify</text><text class="t" x="1122" y="537.8">T 11 &amp; 12</text>
<text class="t" x="1143" y="529">Rpt</text><text class="t" x="1143" y="533.4">Inspection</text><text class="t" x="1143" y="537.8">T 9 &amp; 10</text>
<text class="t" x="1192" y="529">Tower Framing Report</text><text class="t" x="1192" y="533.4">Rcvd/Notify Inspection</text><text class="t" x="1192" y="537.8">T 15 &amp; 16  Surge T 3</text>
<text class="t" x="1247.5" y="533.4">Inspection</text><text class="t" x="1247.5" y="537.8">Surge T 3</text>
<text class="t" x="1270" y="529">Rpt</text><text class="t" x="1270" y="533.4">Inspection</text><text class="t" x="1270" y="537.8">Surge T 15 &amp; 16</text>
<text class="t" x="1362.5" y="537.5">All Tank Cleaning Complete</text>
</g>

<g id="loe1-ra-epa">
<use href="#gt" x="130.7" y="592.7"/><use href="#gt" x="155.3" y="592.7"/><use href="#ex" x="167.3" y="592.7"/><use href="#gd" x="181.7" y="592.7"/><use href="#gt" x="192.3" y="592.7"/><use href="#gt" x="196.7" y="592.7"/><use href="#gt" x="206.7" y="592.7"/><use href="#gd" x="216" y="592.7"/>
<use href="#dr" x="306.7" y="592.7"/><use href="#ex" x="320" y="592.7"/><use href="#dr" x="568" y="592.7"/><use href="#ym" x="604" y="592.7"/><use href="#ym" x="617" y="592.7"/><use href="#dr" x="606" y="593.7"/><use href="#dr" x="619" y="593.7"/><use href="#dr" x="808" y="592.7"/><use href="#ym" x="883" y="592.7"/><use href="#dr" x="885" y="593.7"/><use href="#dr" x="1013" y="592.7"/><use href="#ym" x="1025.6" y="592.7"/><use href="#dr" x="1072" y="592.7"/><use href="#ym" x="1089" y="592.7"/><use href="#dr" x="1092" y="593.7"/><use href="#dr" x="1140" y="592.7"/><use href="#ym" x="1150" y="592.7"/><use href="#dr" x="1152" y="593.7"/><use href="#ym" x="1203.6" y="592.7"/><use href="#ym" x="1215.5" y="592.7"/><use href="#dr" x="1217.6" y="593.7"/><use href="#ym" x="1226.6" y="592.7"/><use href="#ym" x="1256" y="592.7"/><use href="#ym" x="1278" y="592.7"/><use href="#dr" x="1289" y="593.7"/><use href="#om" x="1386.4" y="592.7"/>
<text class="t" x="119" y="602.7">RA Response</text><text class="t" x="119" y="607.1">Letter Rcvd</text>
<text class="t" x="148" y="602.7">Spill Ex</text><text class="t" x="148" y="607.1">Plan/Exercise</text><text class="t" x="155" y="611.5">Plan Concur</text>
<text class="t" x="182.7" y="602.7">Tank Cleaning</text><text class="t" x="182.7" y="607.1">Validation Forum</text><text class="t" x="182.7" y="611.5">Resp. Submit</text>
<text class="t" x="193" y="602.7">Tank Verification</text><text class="t" x="205" y="607.1">Approved</text>
<text class="t" x="288" y="602.7">Tower Framing Report</text><text class="t" x="288" y="607.1">Rcvd/Notify</text><text class="t" x="288" y="611.5">T 6     T 7</text>
<text class="t" x="549.6" y="602.7">Tower Framing Report</text><text class="t" x="549.6" y="607.1">Rcvd/Notify</text><text class="t" x="549.6" y="611.5">T 5 &amp; 6</text>
<text class="t" x="596.5" y="602.7">Rpt    Rpt</text><text class="t" x="596.5" y="607.1">Inspection</text><text class="t" x="596.5" y="611.5">T 7    T 6</text>
<text class="t" x="789" y="602.7">Tower Framing Report</text><text class="t" x="789" y="607.1">Rcvd/Notify</text><text class="t" x="789" y="611.5">T 3 &amp; 4</text>
<text class="t" x="875" y="602.7">Rpt</text><text class="t" x="875" y="607.1">Inspection</text><text class="t" x="875" y="611.5">T 5 &amp; 6</text>
<text class="t" x="994.5" y="602.7">Tower Framing Report</text><text class="t" x="994.5" y="607.1">Rcvd/Notify</text><text class="t" x="994.5" y="611.5">T 2 &amp; 20</text>
<text class="t" x="1051" y="602.7">Tower Framing Report</text><text class="t" x="1051" y="607.1">Rcvd/Notify</text><text class="t" x="1051" y="611.5">T 9 &amp; 10</text>
<text class="t" x="1122" y="602.7">Tower Framing Report</text><text class="t" x="1122" y="607.1">Rcvd/Notify</text><text class="t" x="1122" y="611.5">T 11 &amp; 12</text>
<text class="t" x="1192" y="602.7">Tower Framing Report</text><text class="t" x="1192" y="607.1">Rcvd/Notify</text><text class="t" x="1192" y="611.5">T 15 &amp; 16</text>
<text class="t" x="1247.5" y="607.1">Inspection</text><text class="t" x="1247.5" y="611.5">Surge T 3</text>
<text class="t" x="1270" y="602.7">Rpt</text><text class="t" x="1270" y="607.1">Inspection</text><text class="t" x="1270" y="611.5">Surge T 15 &amp; 16</text>
<text class="t" x="1362.5" y="611">All Tank Cleaning Complete</text>
</g>

<g id="loe2-nctf">
<use href="#gd" x="123.3" y="632.3"/><use href="#gt" x="156.7" y="632.3"/><use href="#gd" x="162.7" y="632.3"/><use href="#gd" x="246.7" y="632.3"/>
<use href="#ym" x="404.2" y="632.3"/><use href="#dl" x="433.8" y="632.3"/><use href="#dl" x="537.9" y="632.3"/><use href="#om" x="602" y="632.3"/><use href="#ym" x="785.3" y="632.3"/><use href="#ex" x="812.3" y="632.3"/><use href="#ym" x="836.3" y="632.3"/><use href="#om" x="868" y="632.3"/><use href="#ym" x="896" y="632.3"/><use href="#om" x="1449" y="632.3"/><use href="#ym" x="1465" y="632.3"/><use href="#ym" x="1482.7" y="632.3"/>
<text class="t" x="113" y="613.5">Contracting</text><text class="t" x="113" y="617.9">Start RFP</text>
<text class="t" x="143" y="642">Draft Req Prelim/T</text><text class="t" x="143" y="646.4">Preliminary Prop Rcvd</text><text class="t" x="168" y="646.4">Contract Award</text>
<text class="t" x="230" y="646">Definitized Contract</text>
<text class="t" x="398" y="646">Finalize</text><text class="t" x="398" y="650.4">RFP</text>
<text class="t" x="421" y="642">Contract Award</text><text class="t" x="421" y="646.4">Pipeline</text><text class="t" x="421" y="650.8">Deconstruction</text>
<text class="t" x="529" y="642">Work Plan</text><text class="t" x="529" y="646.4">Submit</text>
<text class="t" x="593.5" y="650">Work Plan</text><text class="t" x="593.5" y="654.4">Concur</text>
<text class="t" x="775" y="645.5">Abatement</text><text class="t" x="775" y="649.9">Program(s)</text><text class="t" x="775" y="654.3">in Place</text>
<text class="t" x="805.7" y="640.5">Spill</text><text class="t" x="805.7" y="644.9">Exercise</text>
<text class="t" x="826" y="645.5">QA</text><text class="t" x="826" y="649.9">Assessment</text><text class="t" x="823.6" y="655.5">QA Assessment</text>
<text class="t" x="849" y="649">Pipeline Removal Start</text><text class="t" x="849" y="653.4">(Mobilization)</text>
<text class="t" x="878" y="645.5">Pipeline Venting Start</text><text class="t" x="878" y="649.9">Defueled</text>
<text class="t" x="1447" y="613.5">Defueling Completion</text><text class="t" x="1447" y="617.9">Final Inspection</text>
<text class="t" x="1435" y="649">Pipeline Removal</text><text class="t" x="1435" y="653.4">Complete (Prelim.)</text>
<text class="t" x="1468" y="645.5">Pipeline Removal</text><text class="t" x="1468" y="649.9">Complete</text>
</g>

<g id="loe2-ra">
<use href="#gt" x="160" y="669.5"/>
<use href="#dr" x="538" y="669.5"/><use href="#om" x="602" y="669.5"/><use href="#ym" x="785" y="669.5"/><use href="#ex" x="812" y="669.5"/><use href="#ym" x="836" y="669.5"/><use href="#om" x="1449" y="669.5"/><use href="#ym" x="1465" y="669.5"/><use href="#ym" x="1482.7" y="669.5"/>
<text class="t" x="150" y="679.5">Draft Rqmn't</text><text class="t" x="150" y="683.9">Received</text>
<text class="t" x="529" y="679.5">Work Plan</text><text class="t" x="529" y="683.9">Rcvd</text>
<text class="t" x="586" y="687.5">Work Plan Concur</text>
<text class="t" x="768" y="683.5">Abatement Exercise</text><text class="t" x="768" y="687.9">Program(s) in place</text>
<text class="t" x="801.6" y="678">Spill Exercise</text>
<text class="t" x="1434" y="686.5">Pipeline Removal</text><text class="t" x="1434" y="690.9">Complete (Prelim.)</text>
<text class="t" x="1447" y="682">Defueling Completion</text>
<text class="t" x="1468" y="683.5">Pipeline Removal</text><text class="t" x="1468" y="687.9">Complete</text>
<use href="#gt" x="160" y="702.5"/>
<use href="#dr" x="538" y="702.5"/><use href="#om" x="602" y="702.5"/><use href="#ym" x="785" y="702.5"/><use href="#ex" x="812" y="702.5"/><use href="#ym" x="836" y="702.5"/><use href="#om" x="1449" y="702.5"/><use href="#ym" x="1465" y="702.5"/><use href="#ym" x="1482.7" y="702.5"/>
<text class="t" x="150" y="712.5">Draft Rqmn't</text><text class="t" x="150" y="716.9">Received</text>
<text class="t" x="529" y="712.5">Work Plan</text><text class="t" x="529" y="716.9">Rcvd</text>
<text class="t" x="586" y="720.5">Work Plan Concur</text>
<text class="t" x="768" y="716.5">Abatement</text><text class="t" x="768" y="720.9">program(s) in place</text>
<text class="t" x="801.6" y="711">Spill Exercise</text>
<text class="t" x="822.6" y="716.5">QA Assessment</text>
<text class="t" x="1434" y="720.5">Pipeline Removal</text><text class="t" x="1434" y="724.9">Complete (Prelim.)</text>
<text class="t" x="1468" y="716.5">Pipeline Removal</text><text class="t" x="1468" y="720.9">Complete</text>
</g>

<g id="loe3-nctf">
<use href="#gd" x="134.3" y="744.3"/><use href="#gt" x="162.7" y="744.3"/><use href="#ipr" x="165.7" y="744.3"/><use href="#gd" x="190" y="744.3"/><use href="#gd" x="197.3" y="744.3"/><use href="#gd" x="220" y="744.3"/>
<use href="#ym" x="278.7" y="744.3"/><use href="#ym" x="418.5" y="744.3"/><use href="#ym" x="478.7" y="744.3"/><use href="#ym" x="612.9" y="744.3"/><use href="#ym" x="800" y="744.3"/><use href="#dl" x="993.5" y="744.3"/><use href="#dr" x="1012.3" y="744.3"/><use href="#dl" x="1028.7" y="744.3"/><use href="#om" x="1046" y="744.3"/><use href="#ym" x="1095" y="744.3"/><use href="#om" x="1596" y="744.3"/><use href="#ym" x="1610.5" y="744.3"/>
<text class="t" x="125" y="726">Contracting</text><text class="t" x="125" y="730.4">Start</text>
<text class="t" x="181.7" y="726">AFFF</text><text class="t" x="181.7" y="730.4">Walkthrough</text>
<text class="t" x="146.7" y="754.5">Draft Reqmn't/Proposal</text><text class="t" x="146.7" y="758.9">Submit to RA</text>
<text class="t" x="186.7" y="758.5">AFFF Conc</text><text class="t" x="186.7" y="762.9">Drain</text><text class="t" x="186.7" y="767.3">Complete</text>
<text class="t" x="206.7" y="758.5">Closure Design</text><text class="t" x="206.7" y="762.9">Contract Award</text>
<text class="t" x="270" y="758.5">DB</text><text class="t" x="270" y="762.9">Package 1</text><text class="t" x="270" y="767.3">RFP</text>
<text class="t" x="404.7" y="758.5">Quarterly Closure</text><text class="t" x="404.7" y="762.9">Design Update</text>
<text class="t" x="470" y="758.5">DB</text><text class="t" x="470" y="762.9">Package 1</text><text class="t" x="470" y="767.3">Award</text>
<text class="t" x="598" y="758.5">Quarterly Closure</text><text class="t" x="598" y="762.9">Design Update</text>
<text class="t" x="785" y="758.5">Quarterly Closure</text><text class="t" x="785" y="762.9">Design Update</text>
<text class="t" x="982.7" y="755">Draft Suppl 4</text><text class="t" x="982.7" y="759.4">Submit</text>
<text class="t" x="1004.7" y="755">RA</text><text class="t" x="1004.7" y="759.4">Comments</text><text class="t" x="1004.7" y="763.8">Rcvd</text>
<text class="t" x="1017.4" y="755">Final Suppl 4</text><text class="t" x="1017.4" y="759.4">Submit</text>
<text class="t" x="1028" y="762.5">Supplement 4 Concur</text>
<text class="t" x="1068.5" y="758.5">Facility Ancillary Equip.</text><text class="t" x="1068.5" y="762.9">Removal Contract Award</text><text class="t" x="1068.5" y="767.3">(Disposition of Appurtenances)</text>
<text class="t" x="1572.6" y="762.5">Facility Ancillary Equipment</text><text class="t" x="1572.6" y="766.9">Removal Complete</text>
<text class="t" x="1603" y="758.5">Contract</text><text class="t" x="1603" y="762.9">Complete</text>
</g>

<g id="loe3-ra">
<use href="#gt" x="163.3" y="784.3"/><use href="#ipr" x="165.7" y="784.3"/><use href="#gd" x="192" y="784.3"/>
<use href="#dr" x="993.5" y="784.3"/><use href="#dl" x="1012.3" y="784.3"/><use href="#dr" x="1028.7" y="784.3"/><use href="#om" x="1046" y="784.3"/><use href="#om" x="1596" y="784.3"/>
<text class="t" x="153" y="794.5">Draft Reqmn't</text><text class="t" x="153" y="798.9">Received from RA</text>
<text class="t" x="982.7" y="794.5">Draft Suppl 4</text><text class="t" x="982.7" y="798.9">Rcvd</text>
<text class="t" x="1004.7" y="794.5">RA</text><text class="t" x="1004.7" y="798.9">Comments</text>
<text class="t" x="1017.4" y="794.5">Final Suppl 4</text><text class="t" x="1017.4" y="798.9">Rcvd</text>
<text class="t" x="1028" y="802.5">Supplement 4 Concur</text>
<text class="t" x="1572.6" y="802.5">Facility Ancillary Equipment</text><text class="t" x="1572.6" y="806.9">Removal Complete</text>
<use href="#gt" x="163.3" y="817.3"/><use href="#ipr" x="165.7" y="817.3"/><use href="#gd" x="192" y="817.3"/>
<use href="#dr" x="993.5" y="817.3"/><use href="#dl" x="1012.3" y="817.3"/><use href="#dr" x="1028.7" y="817.3"/><use href="#om" x="1046" y="817.3"/><use href="#om" x="1596" y="817.3"/>
<text class="t" x="153" y="827.5">Draft Reqmn't</text><text class="t" x="153" y="831.9">Received from RA</text>
<text class="t" x="181.7" y="830.5">AFFF</text><text class="t" x="181.7" y="834.9">Walkthrough</text>
<text class="t" x="982.7" y="827.5">Draft Suppl 4</text><text class="t" x="982.7" y="831.9">Rcvd</text>
<text class="t" x="1004.7" y="827.5">RA</text><text class="t" x="1004.7" y="831.9">Comments</text>
<text class="t" x="1017.4" y="827.5">Final Suppl 4</text><text class="t" x="1017.4" y="831.9">Rcvd</text>
<text class="t" x="1028" y="835.5">Supplement 4 Concur</text>
<text class="t" x="1572.6" y="834.5">Facility Ancillary Equipment</text><text class="t" x="1572.6" y="838.9">Removal Complete</text>
</g>

<g id="loe4-nctf">
<use href="#ipr" x="151" y="858"/><use href="#ipr" x="163.3" y="858"/><use href="#ipr" x="176.7" y="858"/><use href="#ipr" x="195.7" y="858"/>
<use href="#dl" x="278.7" y="858"/><use href="#dr" x="381.2" y="858"/><use href="#dl" x="421.5" y="858"/><use href="#om" x="457.2" y="858"/><use href="#ym" x="478.7" y="858"/><use href="#ym" x="676.6" y="858"/><use href="#ym" x="1110" y="858"/><use href="#dl" x="1256" y="858"/><use href="#dl" x="1288.8" y="858"/><use href="#om" x="1304" y="858"/>
<text class="t" x="140" y="868.5">Expectation</text><text class="t" x="140" y="872.9">mtg w/ RA</text>
<text class="t" x="157" y="868.5">Scoping Mtg</text><text class="t" x="157" y="872.9">Site Assessment</text><text class="t" x="166" y="877.3">WG</text>
<text class="t" x="189" y="868.5">Scoping</text><text class="t" x="189" y="872.9">Mtg #3</text>
<text class="t" x="256.7" y="868.5">Draft Work Plan (Suppl 3)</text><text class="t" x="256.7" y="872.9">Submit to RA</text>
<text class="t" x="359" y="868.5">Draft Work Plan (Suppl 3)</text><text class="t" x="359" y="872.9">Comments From RA</text>
<text class="t" x="409.3" y="868.5">Revised Work</text><text class="t" x="409.3" y="872.9">Plan Submit</text><text class="t" x="409.3" y="877.3">to RA</text>
<text class="t" x="449" y="876.5">Work Plan</text><text class="t" x="449" y="880.9">Concur</text>
<text class="t" x="459" y="872.5">Contract Award Site</text><text class="t" x="459" y="876.9">Assessment Field Work</text>
<text class="t" x="666" y="872">Start Field Work</text>
<text class="t" x="1095" y="872">Complete Field Work</text>
<text class="t" x="1236.8" y="868.5">Draft Site Assessment</text><text class="t" x="1236.8" y="872.9">Report Submit to RA</text>
<text class="t" x="1270.5" y="868.5">Final Site Assessment</text><text class="t" x="1270.5" y="872.9">Report Submit to RA</text>
<text class="t" x="1285.8" y="876">Final Site Assessment</text><text class="t" x="1285.8" y="880.4">Report Concurrence</text>
</g>

<g id="loe4-ra">
<use href="#ipr" x="151" y="896"/><use href="#ipr" x="163.3" y="896"/><use href="#ipr" x="176.7" y="896"/><use href="#ipr" x="195.7" y="896"/>
<use href="#dr" x="278.7" y="896"/><use href="#dl" x="381" y="896"/><use href="#dr" x="421.5" y="896"/><use href="#om" x="457.2" y="896"/><use href="#dr" x="1256" y="896"/><use href="#dr" x="1289" y="896"/><use href="#om" x="1304" y="896"/>
<text class="t" x="140" y="906">Expectation</text><text class="t" x="140" y="910.4">mtg w/ RA</text>
<text class="t" x="157" y="906">Scoping Mtg</text><text class="t" x="157" y="910.4">Site Assessment</text><text class="t" x="166" y="914.8">WG</text>
<text class="t" x="189" y="906">Scoping</text><text class="t" x="189" y="910.4">Mtg #3</text>
<text class="t" x="256.7" y="906">Draft Work Plan (Suppl 3)</text><text class="t" x="256.7" y="910.4">Rcvd</text>
<text class="t" x="359" y="906">Draft Work Plan (Suppl 3)</text><text class="t" x="359" y="910.4">Comments From RA</text>
<text class="t" x="409" y="906">Revised Work</text><text class="t" x="409" y="910.4">Plan Rcvd</text>
<text class="t" x="441.7" y="914">Work Plan Concur</text>
<text class="t" x="1236.8" y="906">Draft Site Assessment</text><text class="t" x="1236.8" y="910.4">Report Rcvd</text>
<text class="t" x="1270.5" y="906">Final Site Assessment</text><text class="t" x="1270.5" y="910.4">Report Rcvd</text>
<text class="t" x="1275" y="914">Final Site Assessment Rpt Concur</text>
<use href="#ipr" x="151" y="930"/><use href="#ipr" x="163.3" y="930"/><use href="#ipr" x="176.7" y="930"/><use href="#ipr" x="195.7" y="930"/>
<use href="#dr" x="278.7" y="930"/><use href="#dl" x="381" y="930"/><use href="#dr" x="421.5" y="930"/><use href="#om" x="457.2" y="930"/><use href="#dr" x="1256" y="930"/><use href="#dr" x="1289" y="930"/><use href="#om" x="1304" y="930"/>
<text class="t" x="140" y="940">Expectation</text><text class="t" x="140" y="944.4">mtg w/ RA</text>
<text class="t" x="157" y="940">Scoping Mtg</text><text class="t" x="157" y="944.4">Site Assessment</text><text class="t" x="166" y="948.8">WG</text>
<text class="t" x="189" y="940">Scoping</text><text class="t" x="189" y="944.4">Mtg #3</text>
<text class="t" x="256.7" y="940">Draft Work Plan (Suppl 3)</text><text class="t" x="256.7" y="944.4">Rcvd</text>
<text class="t" x="359" y="940">Draft Work Plan (Suppl 3)</text><text class="t" x="359" y="944.4">Comments From RA</text>
<text class="t" x="409" y="940">Revised Work</text><text class="t" x="409" y="944.4">Plan Received</text>
<text class="t" x="441.7" y="948">Work Plan Concur</text>
<text class="t" x="1236.8" y="940">Draft Site Assessment</text><text class="t" x="1236.8" y="944.4">Report Rcvd</text>
<text class="t" x="1270.5" y="940">Final Site Assessment</text><text class="t" x="1270.5" y="944.4">Report Rcvd</text>
<text class="t" x="1275" y="948">Final Site Assessment Rpt Concur</text>
</g>

<g id="loe5-nctf">
<use href="#gt" x="155.3" y="972.7"/><use href="#gdl" x="170.7" y="972.7"/><use href="#gd" x="187.7" y="972.7"/><use href="#gd" x="199.3" y="972.7"/><use href="#gd" x="264" y="972.7"/>
<use href="#dl" x="278.7" y="972.7"/><use href="#ym" x="349" y="972.7"/><use href="#dl" x="478.7" y="972.7"/><use href="#dl" x="617" y="972.7"/><use href="#dr" x="808" y="972.7"/><use href="#ym" x="1044.5" y="972.7"/><use href="#ym" x="1110" y="972.7"/>
<text class="t" x="246.7" y="954.5">GW Flow Model</text><text class="t" x="246.7" y="958.9">Draft Model to Navy</text>
<text class="t" x="135" y="983">Resp to SVE Comments</text><text class="t" x="135" y="987.4">Submit to RA</text>
<text class="t" x="160" y="991.8">SVE Sys Work Plan</text><text class="t" x="154" y="996.2">Concur</text>
<text class="t" x="196" y="983">GAC Phase Truck Fill</text><text class="t" x="196" y="987.4">Complete</text>
<text class="t" x="263" y="983">GW Flow Model</text><text class="t" x="263" y="987.4">Draft Model to Ras</text>
<text class="t" x="333.3" y="986.5">GW Well</text><text class="t" x="333.3" y="990.9">22 of 22 Complete</text>
<text class="t" x="461" y="983">GW Flow Model</text><text class="t" x="461" y="987.4">Submit Model to Ras</text>
<text class="t" x="606" y="983">Pilot Report</text><text class="t" x="606" y="987.4">Submit to RA</text>
<text class="t" x="796" y="983">Pilot Report</text><text class="t" x="796" y="987.4">RA Comments</text>
</g>

<g id="loe5-edwm">
<use href="#gd" x="170.7" y="1003.3"/><use href="#gd" x="187.7" y="1003.3"/><use href="#gd" x="193.3" y="1003.3"/><use href="#gd" x="201.7" y="1003.3"/><use href="#gd" x="255" y="1003.3"/><use href="#gd" x="276" y="1003.3"/>
<use href="#ym" x="412.9" y="1003.3"/><use href="#ym" x="545" y="1003.3"/><use href="#ym" x="674.6" y="1003.3"/><use href="#ym" x="800" y="1003.3"/><use href="#ym" x="865.9" y="1003.3"/><use href="#ym" x="929.7" y="1003.3"/>
<text class="t" x="162" y="1017.5">Watershed</text><text class="t" x="162" y="1021.9">Rpt.</text>
<text class="t" x="172.7" y="1017.5">Mon-Halawa Shaft &amp; RH</text><text class="t" x="172.7" y="1021.9">Shaft GAC Installation Start</text>
<text class="t" x="243.3" y="1017.5">EDWM Plan</text><text class="t" x="243.3" y="1021.9">Posted Online</text>
<text class="t" x="268.3" y="1017.5">BiMonthly</text><text class="t" x="268.3" y="1021.9">EDWM</text><text class="t" x="268.3" y="1026.3">Review</text>
<text class="t" x="404.7" y="1017.5">BiMonthly</text><text class="t" x="404.7" y="1021.9">EDWM</text><text class="t" x="404.7" y="1026.3">Review</text>
<text class="t" x="536" y="1017.5">BiMonthly</text><text class="t" x="536" y="1021.9">EDWM</text><text class="t" x="536" y="1026.3">Review</text>
<text class="t" x="666.4" y="1017.5">BiMonthly</text><text class="t" x="666.4" y="1021.9">EDWM</text><text class="t" x="666.4" y="1026.3">Review</text>
<text class="t" x="791.4" y="1017.5">BiMonthly</text><text class="t" x="791.4" y="1021.9">EDWM</text><text class="t" x="791.4" y="1026.3">Review</text>
<text class="t" x="923" y="1017.5">Annual</text><text class="t" x="923" y="1021.9">Closeout</text><text class="t" x="923" y="1026.3">Review</text>
</g>

<g id="loe5-ra">
<use href="#gt" x="155.3" y="1040.5"/><use href="#gdl" x="171" y="1040.5"/>
<use href="#dr" x="278.7" y="1040.5"/><use href="#dr" x="478.7" y="1040.5"/><use href="#dr" x="617" y="1040.5"/><use href="#dl" x="808" y="1040.5"/>
<text class="t" x="141.7" y="1049.5">Resp to SVE</text><text class="t" x="141.7" y="1053.9">Comments Rcvd</text>
<text class="t" x="146.7" y="1058.3">SVE Sys Work Plan Concur</text>
<text class="t" x="263.3" y="1049.5">GW Flow Model</text><text class="t" x="263.3" y="1053.9">Draft Model to Ras</text>
<text class="t" x="461" y="1049.5">GW Flow Model</text><text class="t" x="461" y="1053.9">Submit Model to Ras</text>
<text class="t" x="606" y="1049.5">Pilot Report</text><text class="t" x="606" y="1053.9">Submit to RA</text>
<text class="t" x="796" y="1049.5">Pilot Report</text><text class="t" x="796" y="1053.9">RA Comments</text>
<use href="#gt" x="155.3" y="1071.7"/><use href="#gdl" x="171" y="1071.7"/>
<use href="#dr" x="278.7" y="1071.7"/><use href="#dr" x="478.7" y="1071.7"/><use href="#dr" x="617" y="1071.7"/><use href="#dl" x="808" y="1071.7"/>
<text class="t" x="141.7" y="1081.7">Resp to SVE</text><text class="t" x="141.7" y="1086.1">Comments Rcvd</text>
<text class="t" x="146.7" y="1090.5">GAC Sys Work Plan Concur</text>
<text class="t" x="263.3" y="1081.7">GW Flow Model</text><text class="t" x="263.3" y="1086.1">Draft Model to Ras</text>
<text class="t" x="461" y="1081.7">GW Flow Model</text><text class="t" x="461" y="1086.1">Submit Model to Ras</text>
<text class="t" x="606" y="1081.7">Pilot Report</text><text class="t" x="606" y="1086.1">Submit to RA</text>
<text class="t" x="796" y="1081.7">Pilot Report</text><text class="t" x="796" y="1086.1">RA Comments</text>
</g>

<g id="strategic">
<use href="#gd" x="130" y="1111.2"/><use href="#gd" x="150" y="1111.2"/><use href="#gd" x="158.3" y="1111.2"/><use href="#gd" x="166.7" y="1111.2"/><use href="#gd" x="174.3" y="1111.2"/><use href="#gd" x="182.7" y="1111.2"/><use href="#gd" x="196" y="1111.2"/><use href="#gd" x="206.7" y="1111.2"/><use href="#gd" x="211" y="1111.2"/><use href="#gd" x="216.7" y="1111.2"/><use href="#gd" x="270.7" y="1111.2"/>
<use href="#ym" x="278.7" y="1111.2"/><use href="#ym" x="289.4" y="1111.2"/><use href="#ym" x="305.7" y="1111.2"/><use href="#ym" x="317" y="1111.2"/><use href="#ym" x="377.7" y="1111.2"/><use href="#ym" x="390" y="1111.2"/><use href="#ym" x="498" y="1111.2"/><use href="#ym" x="511.8" y="1111.2"/><use href="#ym" x="773" y="1111.2"/><use href="#ym" x="961.8" y="1111.2"/><use href="#ym" x="1025.6" y="1111.2"/><use href="#ym" x="1086.8" y="1111.2"/><use href="#ym" x="1126" y="1111.2"/><use href="#ym" x="1182.7" y="1111.2"/><use href="#ym" x="1280.7" y="1111.2"/><use href="#ym" x="1376" y="1111.2"/><use href="#ym" x="1474.6" y="1111.2"/><use href="#ym" x="1571.3" y="1111.2"/>
<text class="t" x="149" y="1097.5">Open House</text><text class="t" x="170" y="1097.5">FTAC/DRI</text><text class="t" x="190" y="1097.5">CWRM</text><text class="t" x="200" y="1097.5">RH/SPI</text>
<text class="t" x="256" y="1093">Press Release</text><text class="t" x="256.7" y="1097.5">Tank Cleaning Supplement</text>
<text class="t" x="311" y="1097.5">CWRM</text>
<text class="t" x="368" y="1097.5">Open House</text>
<text class="t" x="502" y="1097.5">Open House</text>
<text class="t" x="119.3" y="1125.5">Joint Press</text><text class="t" x="141" y="1125.5">DLNR</text><text class="t" x="151" y="1125.5">CWRM</text><text class="t" x="162" y="1125.5">DRI</text>
<text class="t" x="170" y="1121">NCTF-RH Website</text><text class="t" x="170" y="1129.9">Announcement</text>
<text class="t" x="206.7" y="1129.9">Media Event</text>
<text class="t" x="254.3" y="1125.5">Press Release Press Release</text><text class="t" x="254.3" y="1129.9">Tank 7 Welding Inspection</text><text class="t" x="254.3" y="1134.3">Tank 8 Cleaning Update</text>
<text class="t" x="365.4" y="1125.5">Press Release</text><text class="t" x="365.4" y="1129.9">Open House Announcement</text>
<text class="t" x="485" y="1125.5">FTAC CWRM</text>
<text class="t c" x="773" y="1125.5">Open House</text>
<text class="t c" x="961.8" y="1125.5">FTAC</text>
<text class="t c" x="1025.6" y="1125.5">Open House</text>
<text class="t c" x="1086.8" y="1125.5">FTAC</text>
<text class="t c" x="1126" y="1125.5">Open House</text>
<text class="t c" x="1182.7" y="1125.5">FTAC</text>
<text class="t c" x="1280.7" y="1125.5">FTAC</text>
<text class="t c" x="1376" y="1125.5">FTAC</text>
<text class="t c" x="1474.6" y="1125.5">FTAC</text>
<text class="t c" x="1571.3" y="1125.5">FTAC</text>
</g>

<g id="epa-monthly">
<use href="#gt" x="115" y="1145.5"/><use href="#gt" x="130.7" y="1145.5"/><use href="#gt" x="147" y="1145.5"/><use href="#gt" x="163.3" y="1145.5"/><use href="#gt" x="179.3" y="1145.5"/><use href="#gt" x="195.3" y="1145.5"/><use href="#gt" x="211.3" y="1145.5"/><use href="#gt" x="249" y="1145.5"/>
<use href="#dr" x="314.9" y="1145.5"/><use href="#dr" x="381.2" y="1145.5"/><use href="#dr" x="448.6" y="1145.5"/><use href="#dr" x="510.8" y="1145.5"/><use href="#dr" x="576.6" y="1145.5"/><use href="#dr" x="642.4" y="1145.5"/><use href="#dr" x="706.2" y="1145.5"/><use href="#dr" x="770.5" y="1145.5"/><use href="#dr" x="830.2" y="1145.5"/><use href="#dr" x="897.6" y="1145.5"/><use href="#dr" x="961.8" y="1145.5"/>
<use href="#dr" x="1005" y="1145.5"/><use href="#dr" x="1021.2" y="1145.5"/><use href="#dr" x="1037.4" y="1145.5"/><use href="#dr" x="1053.6" y="1145.5"/><use href="#dr" x="1069.8" y="1145.5"/><use href="#dr" x="1086" y="1145.5"/><use href="#dr" x="1102.2" y="1145.5"/><use href="#dr" x="1118.4" y="1145.5"/><use href="#dr" x="1134.6" y="1145.5"/><use href="#dr" x="1150.8" y="1145.5"/><use href="#dr" x="1167" y="1145.5"/><use href="#dr" x="1183.2" y="1145.5"/><use href="#dr" x="1199.4" y="1145.5"/><use href="#dr" x="1215.6" y="1145.5"/><use href="#dr" x="1231.8" y="1145.5"/><use href="#dr" x="1248" y="1145.5"/><use href="#dr" x="1264.2" y="1145.5"/><use href="#dr" x="1280.4" y="1145.5"/><use href="#dr" x="1296.6" y="1145.5"/><use href="#dr" x="1312.8" y="1145.5"/><use href="#dr" x="1329" y="1145.5"/><use href="#dr" x="1345.2" y="1145.5"/><use href="#dr" x="1361.4" y="1145.5"/><use href="#dr" x="1377.6" y="1145.5"/><use href="#dr" x="1393.8" y="1145.5"/><use href="#dr" x="1410" y="1145.5"/><use href="#dr" x="1426.2" y="1145.5"/><use href="#dr" x="1442.4" y="1145.5"/><use href="#dr" x="1458.6" y="1145.5"/><use href="#dr" x="1474.8" y="1145.5"/><use href="#dr" x="1491" y="1145.5"/><use href="#dr" x="1507.2" y="1145.5"/><use href="#dr" x="1523.4" y="1145.5"/><use href="#dr" x="1539.6" y="1145.5"/><use href="#dr" x="1555.8" y="1145.5"/><use href="#dr" x="1572" y="1145.5"/><use href="#dr" x="1588.2" y="1145.5"/><use href="#dr" x="1604.4" y="1145.5"/><use href="#dr" x="1620.6" y="1145.5"/><use href="#dr" x="1636.8" y="1145.5"/><use href="#dr" x="1653" y="1145.5"/><use href="#dr" x="1669.2" y="1145.5"/><use href="#dr" x="1685.4" y="1145.5"/>
<g class="t c">
<text x="115" y="1155">Monthly Rpt</text><text x="130.7" y="1155">Monthly Rpt</text><text x="147" y="1155">Monthly Rpt</text><text x="163.3" y="1155">Monthly Rpt</text><text x="179.3" y="1155">Monthly Rpt</text><text x="195.3" y="1155">Monthly Rpt</text><text x="211.3" y="1155">Monthly Rpt</text><text x="249" y="1155">Monthly Rpt</text>
<text x="314.9" y="1155">Monthly Rpt</text><text x="381.2" y="1155">Monthly Rpt</text><text x="448.6" y="1155">Monthly Rpt</text><text x="510.8" y="1155">Monthly Rpt</text><text x="576.6" y="1155">Monthly Rpt</text><text x="642.4" y="1155">Monthly Rpt</text><text x="706.2" y="1155">Monthly Rpt</text><text x="770.5" y="1155">Monthly Rpt</text><text x="830.2" y="1155">Monthly Rpt</text><text x="897.6" y="1155">Monthly Rpt</text><text x="961.8" y="1155">Monthly Rpt</text>
<text x="1005" y="1155">Monthly Rpt</text><text x="1021.2" y="1155">Monthly Rpt</text><text x="1037.4" y="1155">Monthly Rpt</text><text x="1053.6" y="1155">Monthly Rpt</text><text x="1069.8" y="1155">Monthly Rpt</text><text x="1086" y="1155">Monthly Rpt</text><text x="1102.2" y="1155">Monthly Rpt</text><text x="1118.4" y="1155">Monthly Rpt</text><text x="1134.6" y="1155">Monthly Rpt</text><text x="1150.8" y="1155">Monthly Rpt</text><text x="1167" y="1155">Monthly Rpt</text><text x="1183.2" y="1155">Monthly Rpt</text><text x="1199.4" y="1155">Monthly Rpt</text><text x="1215.6" y="1155">Monthly Rpt</text><text x="1231.8" y="1155">Monthly Rpt</text><text x="1248" y="1155">Monthly Rpt</text><text x="1264.2" y="1155">Monthly Rpt</text><text x="1280.4" y="1155">Monthly Rpt</text><text x="1296.6" y="1155">Monthly Rpt</text><text x="1312.8" y="1155">Monthly Rpt</text><text x="1329" y="1155">Monthly Rpt</text><text x="1345.2" y="1155">Monthly Rpt</text><text x="1361.4" y="1155">Monthly Rpt</text><text x="1377.6" y="1155">Monthly Rpt</text><text x="1393.8" y="1155">Monthly Rpt</text><text x="1410" y="1155">Monthly Rpt</text><text x="1426.2" y="1155">Monthly Rpt</text><text x="1442.4" y="1155">Monthly Rpt</text><text x="1458.6" y="1155">Monthly Rpt</text><text x="1474.8" y="1155">Monthly Rpt</text><text x="1491" y="1155">Monthly Rpt</text><text x="1507.2" y="1155">Monthly Rpt</text><text x="1523.4" y="1155">Monthly Rpt</text><text x="1539.6" y="1155">Monthly Rpt</text><text x="1555.8" y="1155">Monthly Rpt</text><text x="1572" y="1155">Monthly Rpt</text><text x="1588.2" y="1155">Monthly Rpt</text><text x="1604.4" y="1155">Monthly Rpt</text><text x="1620.6" y="1155">Monthly Rpt</text><text x="1636.8" y="1155">Monthly Rpt</text><text x="1653" y="1155">Monthly Rpt</text><text x="1669.2" y="1155">Monthly Rpt</text><text x="1685.4" y="1155">Monthly Rpt</text>
</g>
</g>

<g id="notes"><text class="t" x="140.7" y="1176">Note 1: Tank Cleaning QV is a structural quality verify</text></g>

<g id="legend">
<rect x="36" y="1188" width="1658" height="75" fill="#F7F7F7" stroke="#D6D6D6" stroke-width="1"/>
<polygon points="191,1198.5 200,1217.5 182,1217.5" fill="url(#navy)" stroke="#101040" stroke-width="0.8"/>
<text class="lg" x="211" y="1209.5">Deliverable</text>
<polygon points="428,1198.5 437,1217.5 419,1217.5" fill="#FFFFFF" stroke="#808080" stroke-width="0.8"/>
<text class="lg" x="448" y="1209.5">Deliverable Received</text>
<polygon points="665,1198.5 674,1208 665,1217.5 656,1208" fill="#FFFF00" stroke="#7F7F00" stroke-width="0.8"/>
<text class="lg" x="684" y="1209.5">Milestone</text>
<polygon points="901.6,1194.5 914,1208 901.6,1221.5 889.2,1208" fill="#FF8000" stroke="#804000" stroke-width="0.8"/>
<text class="lg" x="921.6" y="1209.5">Major Milestone</text>
<polygon points="1139.6,1199 1146,1208 1139.6,1217 1133.2,1208" fill="#FFFFFF" stroke="#9933CC" stroke-width="0.9"/>
<text class="lg" x="1158" y="1209.5">IPR</text>
<polygon points="1375.4,1196 1378.4,1204.1 1387,1204.4 1380.2,1209.7 1382.6,1218 1375.4,1213.2 1368.2,1218 1370.6,1209.7 1363.8,1204.4 1372.4,1204.1" fill="#FFFF00" stroke="#606000" stroke-width="0.8"/>
<text class="lg" x="1395" y="1209.5">Decision Point</text>
<g transform="translate(1613.4,1208) scale(1.4)"><rect x="-6" y="-7" width="12" height="14" fill="#FFFFFF" stroke="#FF6060" stroke-width="0.5"/><path d="M-6,-7 L6,7 M6,-7 L-6,7 M-3.5,-7 L0,-3 L3.5,-7 M-3.5,7 L0,3 L3.5,7" fill="none" stroke="#FF6060" stroke-width="0.5"/></g>
<text class="lg" x="1631.7" y="1209.5">Exercise</text>
<rect x="87.3" y="1241.3" width="104.4" height="8" fill="#808080" stroke="#404040" stroke-width="0.8"/>
<text class="lg" x="211" y="1247">Coordination</text>
<rect x="324" y="1241.3" width="104" height="8" fill="#80FFFF" stroke="#404040" stroke-width="0.8"/>
<text class="lg" x="448" y="1247">Navy Closure Task Force</text>
<rect x="561" y="1241.3" width="104" height="8" fill="#008000" stroke="#003300" stroke-width="0.8"/>
<text class="lg" x="684" y="1247">Hawaii Department of Health</text>
<rect x="798" y="1241.3" width="104.7" height="8" fill="#00FF00" stroke="#006600" stroke-width="0.8"/>
<text class="lg" x="921.6" y="1247">Environmental Protection Agency</text>
<path class="dash" d="M1035,1235H1140 M1035,1253.3H1140"/>
<text class="lg" x="1158" y="1247">Date Range</text>
<rect class="hb" x="1272" y="1241.3" width="104.5" height="8"/>
<text class="lg" x="1395" y="1247">Complete</text>
<text x="1506" y="1255" font-family="'Liberation Serif','Times New Roman',serif" font-size="24" fill="#111">Enclosure (3)</text>
</g>
</svg>
